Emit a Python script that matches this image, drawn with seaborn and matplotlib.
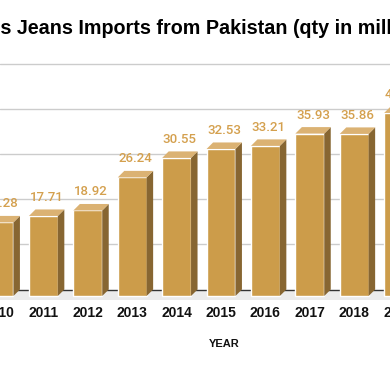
import matplotlib
matplotlib.use("Agg")
import matplotlib.pyplot as plt
import matplotlib.transforms as mtransforms
import seaborn as sns
import numpy as np
import pandas as pd
from matplotlib.patches import Polygon

sns.set_theme(style="white")

years = ['2010', '2011', '2012', '2013', '2014', '2015', '2016', '2017', '2018', '2019']
qty = [16.28, 17.71, 18.92, 26.24, 30.55, 32.53, 33.21, 35.93, 35.86, 40.50]
grid_values = [10, 20, 30, 40, 50]

FRONT = '#CC9C4A'
SIDE = '#876632'
TOP = '#DBB273'
LABEL = '#D4A04E'

df = pd.DataFrame({'year': years, 'qty': qty})

fig = plt.figure(figsize=(3.9, 3.71), dpi=100)
ax = fig.add_axes([0, 71 / 371, 1, 250 / 371])

sns.barplot(data=df, x='year', y='qty', color=FRONT, width=0.65,
            saturation=1, ax=ax, zorder=3)

# pixel scale of the visible window
ax.set_xlim(0.0225, 8.806)
ax.set_ylim(-4 / 4.52, 246 / 4.52)
px_x = 390 / (8.806 - 0.0225)
px_y = 250 / (246 / 4.52 + 4 / 4.52)
depth = 6.5
ddx = depth / px_x
ddy = depth / px_y

# back wall grid + floor
for g in grid_values:
    ax.axhline(g + ddy, color='#CCCCCC', lw=1, zorder=1)
ax.axhspan(-4 / 4.52, ddy, color='#EBEBEB', zorder=1, lw=0)
ax.axhline(ddy, color='#333333', lw=1, zorder=2)

for p, v in zip(ax.patches, qty):
    x0 = p.get_x()
    x1 = x0 + p.get_width()
    h = p.get_height()
    side = Polygon([(x1, 0), (x1 + ddx, ddy), (x1 + ddx, h + ddy), (x1, h)],
                   closed=True, facecolor=SIDE, edgecolor='none', zorder=3)
    top = Polygon([(x0, h), (x0 + ddx, h + ddy), (x1 + ddx, h + ddy), (x1, h)],
                  closed=True, facecolor=TOP, edgecolor='none', zorder=3)
    ax.add_patch(side)
    ax.add_patch(top)
    ax.annotate(f'{v:.2f}', (x0 + p.get_width() / 2 + ddx / 2, h + ddy),
                xytext=(0, 4), textcoords='offset points', ha='center', va='bottom',
                fontsize=9.5, color=LABEL, family='Roboto', fontweight='medium',
                annotation_clip=False)

for s in ax.spines.values():
    s.set_visible(False)
ax.set_yticks([])
ax.set_xticks([])
ax.set_ylabel('')
ax.set_xlabel('')

# category labels (drawn as text so the half-visible first one stays)
trans = mtransforms.blended_transform_factory(ax.transData, ax.transAxes)
for i, y in enumerate(years):
    ax.text(i, -13 / 250, y, transform=trans, ha='center', va='center',
            fontsize=10, fontweight='bold', family='Liberation Sans',
            color='#111111', clip_on=False)

fig.text(224 / 390, 1 - 344 / 371, 'YEAR', ha='center', va='center',
         fontsize=8, fontweight='bold', family='Liberation Sans', color='#111111')

# title: the view starts at the "s" of "States"
title = 'United States Jeans Imports from Pakistan (qty in millions)'
prefix = 'United State'
tkw = dict(fontsize=14.2, fontweight='bold', family='Liberation Sans', color='#000000')
renderer = fig.canvas.get_renderer()
probe = fig.text(0, 0, prefix, **tkw)
pw = probe.get_window_extent(renderer).width
probe.remove()
fig.text(-pw / 390, 1 - 29 / 371, title, ha='left', va='center', **tkw)

fig.savefig('out.png', dpi=100)
